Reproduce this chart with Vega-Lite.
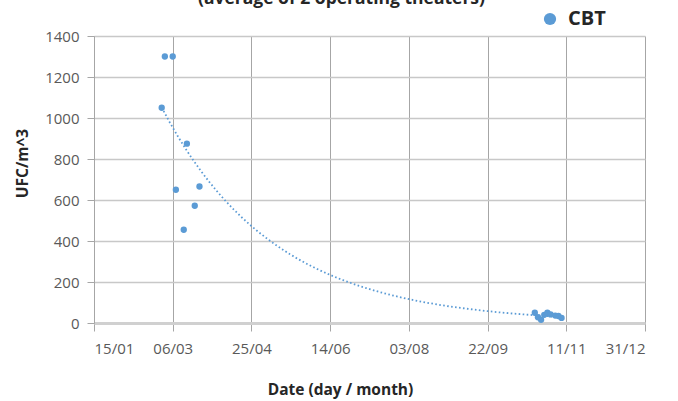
{
  "$schema": "https://vega.github.io/schema/vega-lite/v6.json",
  "width": 551,
  "height": 287,
  "autosize": "none",
  "padding": {"left": 94, "top": 36, "right": 33, "bottom": 78},
  "background": "white",
  "title": {
    "text": "(average of 2 operating theaters)",
    "fontSize": 17.5,
    "fontWeight": "bold",
    "font": "Open Sans",
    "color": "#262626",
    "anchor": "middle",
    "dx": -28,
    "dy": 13,
    "baseline": "alphabetic",
    "offset": 1
  },
  "data": {
    "values": [
      {"date": "2021-02-27", "ufc": 1050, "series": "CBT"},
      {"date": "2021-03-01", "ufc": 1300, "series": "CBT"},
      {"date": "2021-03-06", "ufc": 1300, "series": "CBT"},
      {"date": "2021-03-08", "ufc": 650, "series": "CBT"},
      {"date": "2021-03-13", "ufc": 455, "series": "CBT"},
      {"date": "2021-03-15", "ufc": 875, "series": "CBT"},
      {"date": "2021-03-20", "ufc": 572, "series": "CBT"},
      {"date": "2021-03-23", "ufc": 666, "series": "CBT"},
      {"date": "2021-10-22", "ufc": 50, "series": "CBT"},
      {"date": "2021-10-24", "ufc": 28, "series": "CBT"},
      {"date": "2021-10-26", "ufc": 16, "series": "CBT"},
      {"date": "2021-10-28", "ufc": 40, "series": "CBT"},
      {"date": "2021-10-30", "ufc": 50, "series": "CBT"},
      {"date": "2021-11-01", "ufc": 42, "series": "CBT"},
      {"date": "2021-11-04", "ufc": 36, "series": "CBT"},
      {"date": "2021-11-06", "ufc": 34, "series": "CBT"},
      {"date": "2021-11-08", "ufc": 25, "series": "CBT"}
    ]
  },
  "encoding": {
    "x": {
      "field": "date",
      "type": "temporal",
      "scale": {"type": "utc", "domain": [{"year": 2021, "month": 1, "date": 15, "utc": true}, {"year": 2021, "month": 12, "date": 31, "utc": true}], "nice": false},
      "axis": {
        "title": "Date (day / month)",
        "labelExpr": "utcFormat(datum.value, '%d/%m')",
        "values": [
          {"year": 2021, "month": 1, "date": 15, "utc": true},
          {"year": 2021, "month": 3, "date": 6, "utc": true},
          {"year": 2021, "month": 4, "date": 25, "utc": true},
          {"year": 2021, "month": 6, "date": 14, "utc": true},
          {"year": 2021, "month": 8, "date": 3, "utc": true},
          {"year": 2021, "month": 9, "date": 22, "utc": true},
          {"year": 2021, "month": 11, "date": 11, "utc": true},
          {"year": 2021, "month": 12, "date": 31, "utc": true}
        ],
        "grid": true,
        "gridColor": "#a6a6a6",
        "gridWidth": 1,
        "domainColor": "#d0d0d0",
        "domainWidth": 3,
        "tickColor": "#a6a6a6",
        "tickSize": 8,
        "labelPadding": 10,
        "labelFontSize": 15,
        "labelColor": "#595959",
        "labelFont": "Open Sans",
        "titleFont": "Open Sans",
        "titleFontSize": 15.5,
        "titleFontWeight": "bold",
        "titleColor": "#262626",
        "titleX": 246,
        "titleY": 66,
        "titleBaseline": "middle",
        "titleAnchor": "middle"
      }
    },
    "y": {
      "field": "ufc",
      "type": "quantitative",
      "scale": {"domain": [0, 1400], "nice": false},
      "axis": {
        "title": "UFC/m^3",
        "format": "d",
        "values": [0, 200, 400, 600, 800, 1000, 1200, 1400],
        "grid": true,
        "gridColor": "#c8c8c8",
        "gridWidth": 1.5,
        "domain": true,
        "domainColor": "#a6a6a6",
        "domainWidth": 1,
        "tickColor": "#a6a6a6",
        "tickSize": 7,
        "labelPadding": 8,
        "labelFontSize": 15,
        "labelColor": "#595959",
        "labelFont": "Open Sans",
        "titleFont": "Open Sans",
        "titleFontSize": 15.5,
        "titleFontWeight": "bold",
        "titleColor": "#262626",
        "titleX": -72,
        "titleY": 127,
        "titleAngle": -90,
        "titleBaseline": "middle",
        "titleAnchor": "middle"
      }
    }
  },
  "layer": [
    {
      "transform": [{"regression": "ufc", "on": "date", "method": "exp"}],
      "mark": {"type": "line", "color": "#5b9bd5", "strokeWidth": 1.8, "strokeDash": [1.6, 2.4], "clip": true},
      "encoding": {}
    },
    {
      "mark": {"type": "circle", "size": 40, "opacity": 1},
      "encoding": {
        "color": {
          "field": "series",
          "type": "nominal",
          "scale": {"range": ["#5b9bd5"]},
          "legend": {
            "title": null,
            "orient": "none",
            "legendX": 446,
            "legendY": -27,
            "padding": 0,
            "symbolSize": 150,
            "symbolType": "circle",
            "symbolOpacity": 1,
            "labelFontSize": 20,
            "labelFontWeight": "bold",
            "labelFont": "Open Sans",
            "labelColor": "#262626",
            "labelOffset": 8
          }
        }
      }
    }
  ],
  "config": {"view": {"stroke": null}}
}
